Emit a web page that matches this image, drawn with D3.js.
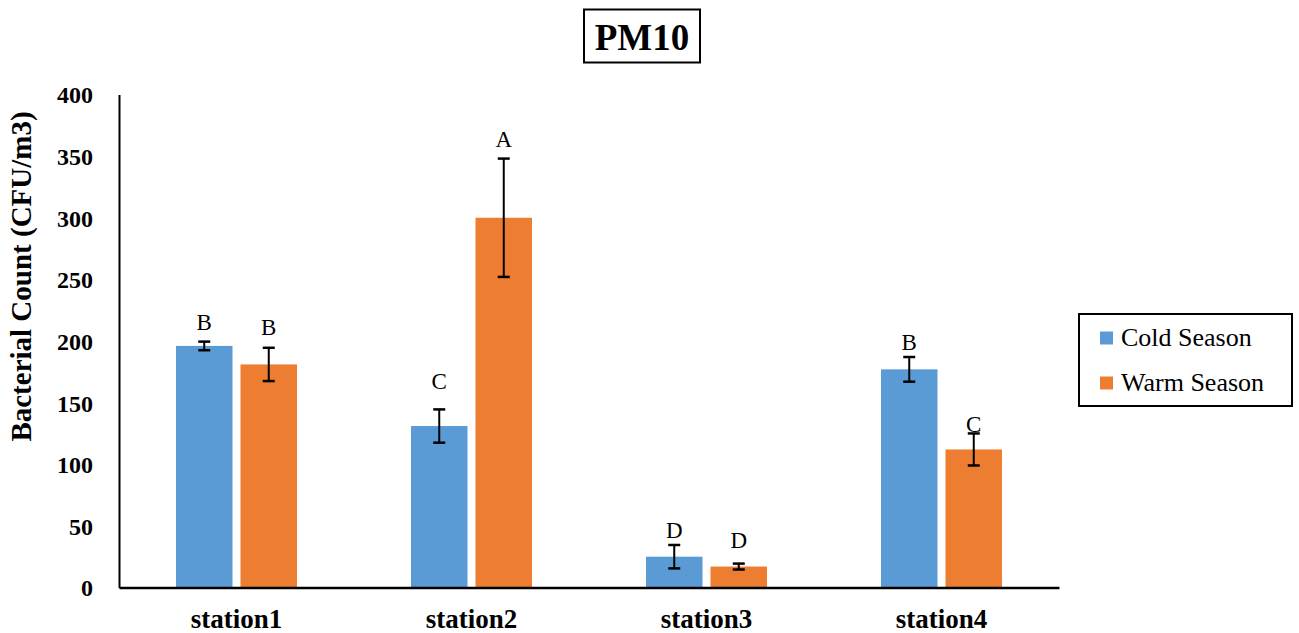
<!DOCTYPE html>
<html>
<head>
<meta charset="utf-8">
<script src="https://cdn.jsdelivr.net/npm/d3@7"></script>
<style>
  html, body { margin: 0; padding: 0; background: #fff; }
  svg { display: block; }
  text { font-family: "Liberation Serif", "Times New Roman", serif; fill: #000; }
</style>
</head>
<body>
<svg id="chart" width="1299" height="633"></svg>
<script>
// PM10 bacterial counts per station, cold vs warm season
const stations = ["station1", "station2", "station3", "station4"];
const seasons = ["Cold Season", "Warm Season"];
const coldValues = [196, 131, 25, 177];
const warmValues = [181, 300, 17, 112];
const coldErrors = [3.5, 13.5, 9.5, 10];
const warmErrors = [13.5, 48, 2.4, 13];
// significance letters and the height (in CFU/m3) where each sits
const coldLetters = ["B", "C", "D", "B"];
const warmLetters = ["B", "A", "D", "C"];
const coldLetterAt = [209, 161, 40, 192.7];
const warmLetterAt = [205, 357.6, 32, 126];
const yTicks = [0, 50, 100, 150, 200, 250, 300, 350, 400];
const colors = ["#5B9BD5", "#ED7D31"];

const svg = d3.select("#chart");
const margin = { left: 119, right: 1059, top: 94.5, bottom: 587.5 };

const x0 = d3.scaleBand().domain(stations).range([margin.left, margin.right]).padding(0);
const x1 = d3.scaleBand().domain(seasons).range([0, 121]).paddingInner(0.124);
const y = d3.scaleLinear().domain([0, 400]).range([margin.bottom, margin.top]);

const rows = stations.map((s, i) => ({
  station: s,
  items: [
    { season: seasons[0], value: coldValues[i], err: coldErrors[i], letter: coldLetters[i], letterAt: coldLetterAt[i], color: colors[0] },
    { season: seasons[1], value: warmValues[i], err: warmErrors[i], letter: warmLetters[i], letterAt: warmLetterAt[i], color: colors[1] }
  ]
}));

const groupOffset = (x0.bandwidth() - 121) / 2;

const groups = svg.append("g").selectAll("g")
  .data(rows).join("g")
  .attr("transform", d => `translate(${x0(d.station) + groupOffset},0)`);

groups.selectAll("rect")
  .data(d => d.items).join("rect")
  .attr("x", d => x1(d.season))
  .attr("width", x1.bandwidth())
  .attr("y", d => y(d.value))
  .attr("height", d => y(0) - y(d.value))
  .attr("fill", d => d.color);

// error bars
const eb = groups.selectAll("g.err")
  .data(d => d.items).join("g").attr("class", "err")
  .attr("transform", d => `translate(${x1(d.season) + x1.bandwidth() / 2},0)`);
eb.append("line")
  .attr("x1", 0).attr("x2", 0)
  .attr("y1", d => y(d.value + d.err)).attr("y2", d => y(d.value - d.err))
  .attr("stroke", "#000").attr("stroke-width", 2);
eb.selectAll("line.cap")
  .data(d => [d.value + d.err, d.value - d.err]).join("line").attr("class", "cap")
  .attr("x1", -6).attr("x2", 6)
  .attr("y1", v => y(v)).attr("y2", v => y(v))
  .attr("stroke", "#000").attr("stroke-width", 2.5);

// letters
groups.selectAll("text.letter")
  .data(d => d.items).join("text").attr("class", "letter")
  .attr("x", d => x1(d.season) + x1.bandwidth() / 2)
  .attr("y", d => y(d.letterAt))
  .attr("text-anchor", "middle")
  .style("font-size", "23px")
  .text(d => d.letter);

// y axis
const yAxis = d3.axisLeft(y).tickValues(yTicks).tickSize(0).tickPadding(26);
const gy = svg.append("g").attr("transform", `translate(${margin.left},0)`).call(yAxis);
gy.select(".domain").attr("stroke", "#000").attr("stroke-width", 2);
gy.selectAll(".tick text")
  .style("font-family", "'Liberation Serif', serif")
  .style("font-size", "24px").style("font-weight", "bold")
  .attr("dy", "0.35em");

// x axis
const xAxis = d3.axisBottom(x0).tickSize(0).tickPadding(21);
const gx = svg.append("g").attr("transform", `translate(0,${margin.bottom})`).call(xAxis);
gx.select(".domain").attr("stroke", "#000").attr("stroke-width", 2.5);
gx.selectAll(".tick text")
  .style("font-family", "'Liberation Serif', serif")
  .style("font-size", "27px").style("font-weight", "bold");

// y axis title
svg.append("text")
  .attr("transform", `translate(31,${(108 + 445) / 2}) rotate(-90)`)
  .attr("text-anchor", "middle")
  .style("font-size", "29px").style("font-weight", "bold")
  .text("Bacterial Count (CFU/m3)");

// title box
svg.append("rect")
  .attr("x", 584).attr("y", 9.5).attr("width", 116).attr("height", 53)
  .attr("fill", "#fff").attr("stroke", "#000").attr("stroke-width", 2);
svg.append("text")
  .attr("x", 642).attr("y", 50)
  .attr("text-anchor", "middle")
  .style("font-size", "37px").style("font-weight", "bold")
  .text("PM10");

// legend
const lg = svg.append("g");
lg.append("rect")
  .attr("x", 1079).attr("y", 314).attr("width", 213).attr("height", 92)
  .attr("fill", "#fff").attr("stroke", "#000").attr("stroke-width", 2);
const li = lg.selectAll("g.item").data(seasons).join("g").attr("class", "item")
  .attr("transform", (d, i) => `translate(1100,${331.5 + i * 45})`);
li.append("rect").attr("width", 13).attr("height", 13).attr("fill", (d, i) => colors[i]);
li.append("text").attr("x", 21).attr("y", 14.5)
  .style("font-size", "26px")
  .text(d => d);
</script>
</body>
</html>
